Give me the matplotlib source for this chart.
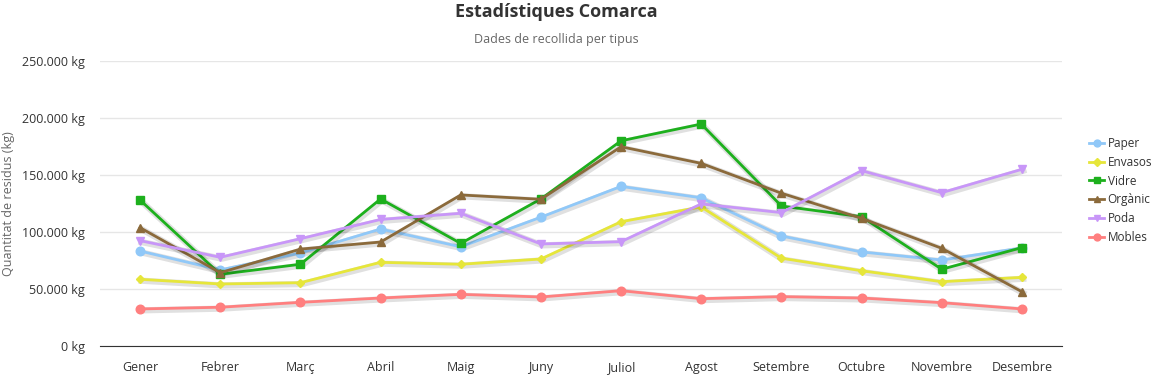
import matplotlib
matplotlib.use("Agg")
import matplotlib.pyplot as plt
import matplotlib.patheffects as pe
from matplotlib.ticker import FuncFormatter

months = ["Gener", "Febrer", "Març", "Abril", "Maig", "Juny", "Juliol",
          "Agost", "Setembre", "Octubre", "Novembre", "Desembre"]
series_names = ["Paper", "Envasos", "Vidre", "Orgànic", "Poda", "Mobles"]
paper = [83300, 66700, 81600, 102600, 87000, 113000, 140000, 130000, 96500, 82500, 75400, 86000]
envasos = [58500, 54400, 55500, 73400, 71700, 76300, 109000, 122000, 77000, 66000, 56400, 60200]
vidre = [128000, 62900, 71700, 129000, 90000, 129000, 180000, 194700, 122800, 113400, 67300, 86300]
organic = [103800, 64300, 85000, 91200, 132500, 128700, 174800, 160200, 134000, 112000, 85700, 47600]
poda = [92400, 77800, 94100, 111000, 116400, 89500, 91500, 124600, 117000, 153800, 134500, 155000]
mobles = [32500, 34000, 38300, 42100, 45300, 43000, 48500, 41500, 43300, 42100, 38000, 32500]

colors = ["#90c8f8", "#e6e63a", "#1db01d", "#8b6a3b", "#c896f8", "#ff7f7f"]
markers = ["o", "D", "s", "^", "v", "o"]
msizes = [6.2, 4.5, 6.2, 6.2, 6.2, 6.2]
data = [paper, envasos, vidre, organic, poda, mobles]

plt.rcParams['font.family'] = ['Open Sans', 'DejaVu Sans']

W, H = 1155, 382
fig = plt.figure(figsize=(W / 100, H / 100), dpi=100)
left, right, top, bottom = 100, 1062, 61, 346
ax = fig.add_axes([left / W, (H - bottom) / H, (right - left) / W, (bottom - top) / H])

x = list(range(len(months)))
shadow = [pe.SimpleLineShadow(offset=(1, -1), shadow_color="black", alpha=0.12, linewidth=4.5)]
for i, (name, vals, c, m, ms) in enumerate(zip(series_names, data, colors, markers, msizes)):
    ax.plot(x, vals, color=c, linewidth=2, path_effects=shadow, zorder=3 + 2 * i)
    ax.plot(x, vals, color=c, marker=m, markersize=ms, linewidth=2, label=name,
            zorder=4 + 2 * i)

ax.set_xlim(-0.5, len(months) - 0.5)
ax.set_ylim(0, 250000)
ax.set_yticks([0, 50000, 100000, 150000, 200000, 250000])
ax.yaxis.set_major_formatter(FuncFormatter(lambda v, p: f"{int(v):,}".replace(",", ".") + " kg"))
ax.set_xticks(x)
ax.set_xticklabels(months)
ax.grid(axis="y", color="#e6e6e6", linewidth=1)
ax.set_axisbelow(True)
for s in ["top", "right", "left"]:
    ax.spines[s].set_visible(False)
ax.spines["bottom"].set_color("#333333")
ax.tick_params(axis="both", length=0, labelsize=9, labelcolor="#333333")
ax.tick_params(axis="x", pad=11)
ax.tick_params(axis="y", pad=11)
ax.set_ylabel("Quantitat de residus (kg)", fontsize=9, color="#666666")
ax.yaxis.set_label_coords((15 - left) / (right - left), 0.5)

fig.text(556 / W, 1 - 12 / H, "Estadístiques Comarca", ha="center", va="center",
         fontsize=13, fontweight="bold", color="#333333")
fig.text(556 / W, 1 - 39 / H, "Dades de recollida per tipus", ha="center", va="center",
         fontsize=9, color="#666666")

leg = ax.legend(loc="center left", bbox_to_anchor=((1081 - left) / (right - left), (bottom - 190.5) / (bottom - top)),
                frameon=False, fontsize=8.5, handlelength=1.25, handletextpad=0.3,
                labelspacing=0.5, markerscale=0.8, borderpad=0.2)
for t in leg.get_texts():
    t.set_color("#333333")

fig.savefig("out.png", dpi=100)
